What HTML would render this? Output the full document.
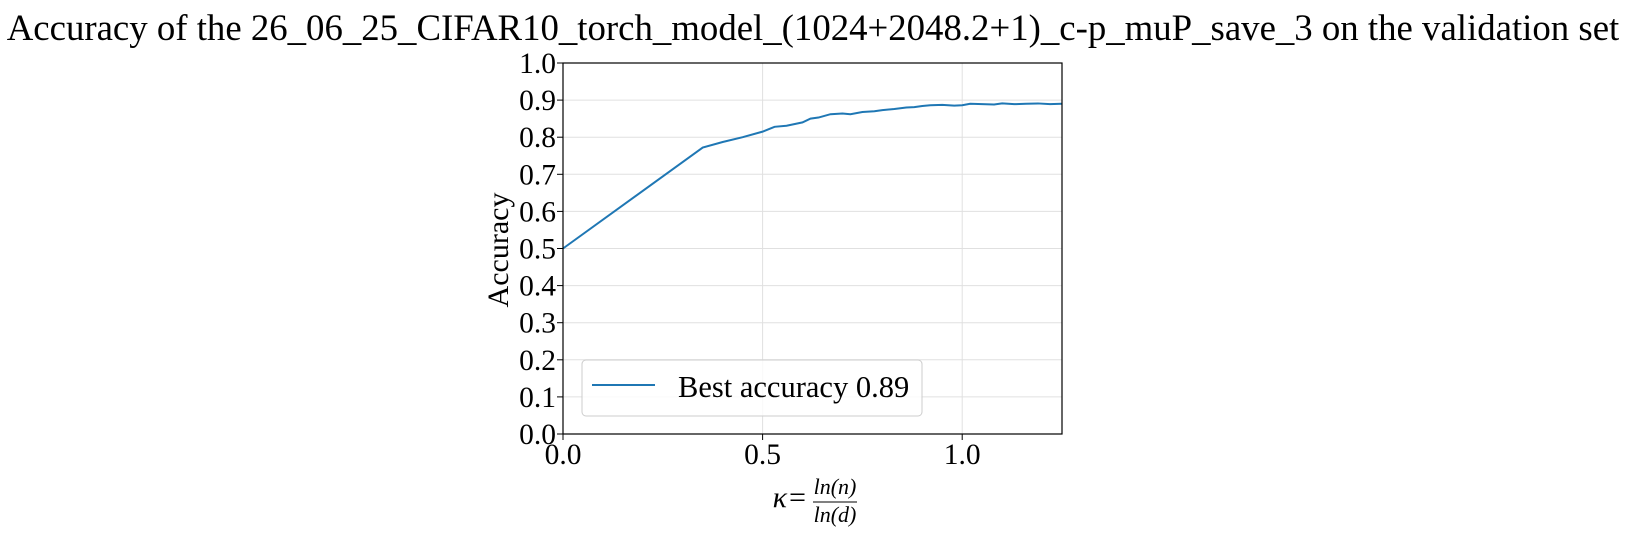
<!DOCTYPE html>
<html><head><meta charset="utf-8"><style>
body{margin:0;background:#fff;width:1626px;height:538px;overflow:hidden;font-family:"Liberation Serif",serif}
</style></head><body>
<svg width="1626" height="538" font-family="Liberation Serif, serif">
<text x="813" y="40" text-anchor="middle" font-size="36.8">Accuracy of the 26_06_25_CIFAR10_torch_model_(1024+2048.2+1)_c-p_muP_save_3 on the validation set</text>
<g id="grid"></g>
<g id="ticks"></g>
<path id="line" fill="none" stroke="#1f77b4" stroke-width="2"/>
<rect x="563" y="63" width="499" height="371" fill="none" stroke="#000" stroke-width="1.2"/>
<text transform="translate(508,250) rotate(-90)" text-anchor="middle" font-size="30">Accuracy</text>
<g>
<text x="790" y="507" text-anchor="middle" font-size="30" font-style="italic">κ=</text>
<text x="835" y="494" text-anchor="middle" font-size="22" font-style="italic">ln(n)</text>
<line x1="813" y1="502" x2="857" y2="502" stroke="#000" stroke-width="1"/>
<text x="835" y="522" text-anchor="middle" font-size="22" font-style="italic">ln(d)</text>
</g>
<g>
<rect x="582" y="360" width="340" height="56" rx="4" fill="#fff" fill-opacity="0.8" stroke="#ccc"/>
<line x1="592" y1="385" x2="655" y2="385" stroke="#1f77b4" stroke-width="2"/>
<text x="678" y="397" font-size="30.5">Best accuracy 0.89</text>
</g>
</svg>
<script>
const xs=[0,0.35,0.40,0.45,0.50,0.53,0.56,0.60,0.62,0.64,0.67,0.70,0.72,0.75,0.78,0.80,0.83,0.86,0.88,0.90,0.92,0.95,0.98,1.00,1.02,1.05,1.08,1.10,1.13,1.16,1.19,1.22,1.25];
const acc=[0.5,0.772,0.787,0.80,0.815,0.828,0.831,0.84,0.85,0.853,0.862,0.864,0.862,0.868,0.870,0.873,0.876,0.880,0.881,0.884,0.886,0.887,0.885,0.886,0.890,0.889,0.888,0.891,0.889,0.890,0.891,0.889,0.890];
const yTicks=[0,0.1,0.2,0.3,0.4,0.5,0.6,0.7,0.8,0.9,1.0];
const xTicks=[0,0.5,1.0];
const L=563,R=1062,T=63,B=434;
const X=v=>L+v/1.25*(R-L), Y=v=>B-v*(B-T);
const ns="http://www.w3.org/2000/svg";
const grid=document.getElementById('grid'),ticks=document.getElementById('ticks');
function mk(t,a,p){const e=document.createElementNS(ns,t);for(const k in a)e.setAttribute(k,a[k]);p.appendChild(e);return e;}
yTicks.forEach(v=>{
 const g=mk('line',{x1:L,x2:R,y1:Y(v),y2:Y(v),stroke:'#e0e0e0','stroke-width':1},grid);
 
 
 mk('line',{x1:L-6,x2:L,y1:Y(v),y2:Y(v),stroke:'#000'},ticks);
 const t=mk('text',{x:L-7,y:Y(v)+10,'text-anchor':'end','font-size':29.5},ticks);t.textContent=v.toFixed(1);
 
 
});
xTicks.forEach(v=>{
 const g=mk('line',{x1:X(v),x2:X(v),y1:T,y2:B,stroke:'#e0e0e0','stroke-width':1},grid);
 
 
 mk('line',{x1:X(v),x2:X(v),y1:B,y2:B+6,stroke:'#000'},ticks);
 const t=mk('text',{x:X(v),y:B+30,'text-anchor':'middle','font-size':29.5},ticks);t.textContent=v.toFixed(1);
 
 
});
document.getElementById('line').setAttribute('d',xs.map((x,i)=>(i?'L':'M')+X(x)+','+Y(acc[i])).join(''));
</script>
</body></html>
